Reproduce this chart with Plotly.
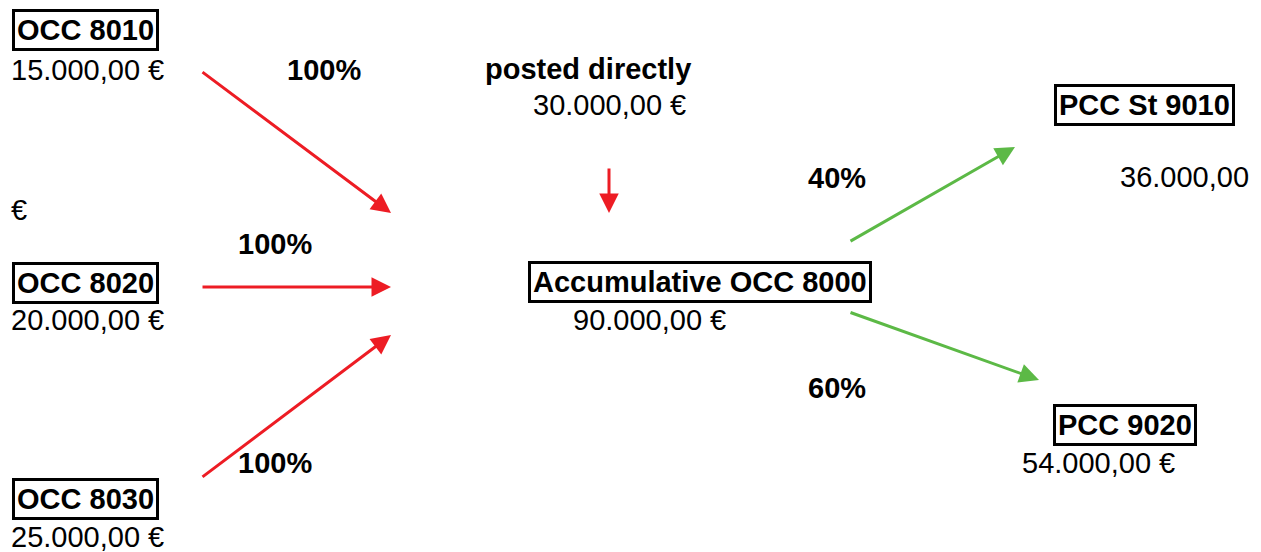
import plotly.graph_objects as go

# ---- data ----
node_names = ["OCC 8010", "OCC 8020", "OCC 8030", "Accumulative OCC 8000", "PCC St 9010", "PCC 9020"]
node_amounts = ["15.000,00 €", "20.000,00 €", "25.000,00 €", "90.000,00 €", "36.000,00", "54.000,00 €"]
flow_shares = ["100%", "100%", "100%", "40%", "60%"]
direct_label = "posted directly"
direct_amount = "30.000,00 €"
stray_label = "€"

# ---- layout positions (pixel coordinates) ----
W, H = 1261, 552
box_pos = [(12, 30, "left"), (12, 283, "left"), (12, 499, "left"), (700, 282, "center"), (1144, 105, "center"), (1125, 425, "center")]
amount_pos = [(9, 70, "left"), (9, 320, "left"), (9, 537, "left"), (649, 320, "center"), (1184, 177, "center"), (1098, 463, "center")]
share_pos = [(324, 70), (275, 244), (275, 463), (837, 178), (837, 388)]
arrows = [((201, 71), (391, 213)), ((201, 287), (391, 287)), ((201, 478), (391, 335)),
          ((849, 242), (1015, 147)), ((849, 312), (1039, 380))]
arrow_colors = ["#ed1c24", "#ed1c24", "#ed1c24", "#5cb946", "#5cb946"]

FONT = "Liberation Sans, Arial, sans-serif"
FS = 29

fig = go.Figure()
fig.add_trace(go.Scatter(x=[0, W], y=[0, H], mode="markers", marker=dict(opacity=0), hoverinfo="skip", showlegend=False))

ann = []
for name, (x, y, al) in zip(node_names, box_pos):
    ann.append(dict(x=x, y=y, xref="x", yref="y", text="<b>" + name + "</b>", showarrow=False,
                    xanchor=al, yanchor="middle", font=dict(family=FONT, size=FS, color="black"),
                    bordercolor="black", borderwidth=3, borderpad=2, bgcolor="white"))
for amt, (x, y, al) in zip(node_amounts, amount_pos):
    ann.append(dict(x=x, y=y, xref="x", yref="y", text=amt, showarrow=False,
                    xanchor=al, yanchor="middle", font=dict(family=FONT, size=FS, color="black")))
for s, (x, y) in zip(flow_shares, share_pos):
    ann.append(dict(x=x, y=y, xref="x", yref="y", text="<b>" + s + "</b>", showarrow=False,
                    xanchor="center", yanchor="middle", font=dict(family=FONT, size=FS, color="black")))
ann.append(dict(x=588, y=69, xref="x", yref="y", text="<b>" + direct_label + "</b>", showarrow=False,
                xanchor="center", yanchor="middle", font=dict(family=FONT, size=FS, color="black")))
ann.append(dict(x=609, y=105, xref="x", yref="y", text=direct_amount, showarrow=False,
                xanchor="center", yanchor="middle", font=dict(family=FONT, size=FS, color="black")))
ann.append(dict(x=9, y=210, xref="x", yref="y", text=stray_label, showarrow=False,
                xanchor="left", yanchor="middle", font=dict(family=FONT, size=FS, color="black")))

for ((x0, y0), (x1, y1)), c in zip(arrows, arrow_colors):
    ann.append(dict(x=x1, y=y1, ax=x0, ay=y0, xref="x", yref="y", axref="x", ayref="y", text="",
                    showarrow=True, arrowhead=2, arrowsize=1.3, arrowwidth=3, arrowcolor=c, standoff=0))
ann.append(dict(x=609, y=213, ax=609, ay=167, xref="x", yref="y", axref="x", ayref="y", text="",
                showarrow=True, arrowhead=2, arrowsize=1.3, arrowwidth=3, arrowcolor="#ed1c24", standoff=0))

fig.update_layout(
    width=W, height=H, margin=dict(l=0, r=0, t=0, b=0),
    paper_bgcolor="white", plot_bgcolor="white",
    xaxis=dict(range=[0, W], visible=False, fixedrange=True),
    yaxis=dict(range=[H, 0], visible=False, fixedrange=True),
    annotations=ann, showlegend=False,
)
fig.write_html("out.html", config={"displayModeBar": False},
               post_script="document.body.style.margin='0';document.body.style.overflow='hidden';")
